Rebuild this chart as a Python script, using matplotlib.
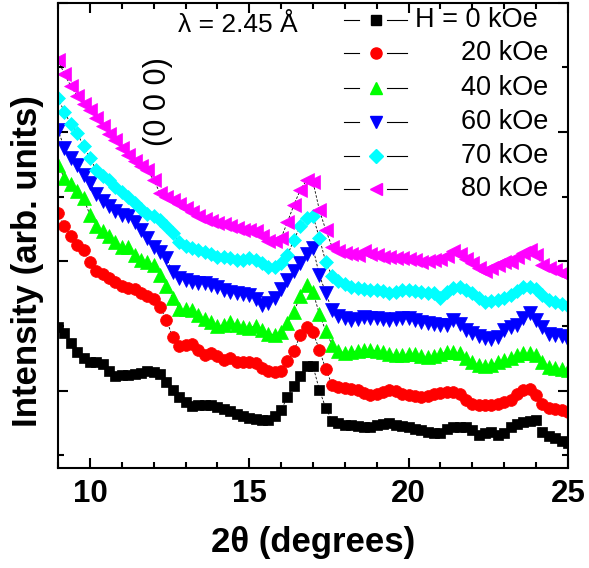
import numpy as np
import matplotlib.pyplot as plt
from matplotlib.ticker import FixedLocator, MultipleLocator

plt.rcParams['font.family'] = ['Liberation Sans', 'DejaVu Sans']

# 2theta grid (degrees) and intensities (arb. units)
two_theta = np.linspace(9.0, 25.0, 81)

i_0k = [141, 135, 125, 116, 110, 106, 106, 104, 97, 92,
        93, 93, 94, 95, 97, 96, 94, 86, 78, 71,
        66, 62, 63, 63, 63, 61, 59, 57, 54, 52,
        50, 49, 48, 48, 52, 58, 71, 82, 92, 102,
        102, 78, 60, 47, 45, 43, 43, 42, 41, 41,
        43, 44, 45, 43, 42, 41, 39, 38, 36, 35,
        35, 39, 41, 41, 41, 38, 33, 35, 36, 33,
        35, 41, 44, 46, 47, 48, 36, 32, 30, 27, 25]

i_20k = [255, 242, 232, 223, 218, 206, 197, 194, 190, 186,
         182, 180, 179, 175, 172, 169, 161, 148, 131, 122,
         123, 124, 118, 113, 115, 112, 108, 110, 106, 106,
         106, 105, 100, 97, 96, 97, 107, 117, 133, 141,
         136, 118, 99, 83, 81, 80, 79, 78, 75, 73,
         74, 76, 78, 77, 74, 73, 72, 71, 72, 74,
         75, 76, 76, 74, 68, 64, 63, 63, 63, 64,
         66, 68, 74, 78, 79, 73, 64, 60, 59, 58, 56]

i_40k = [303, 290, 284, 277, 270, 253, 242, 237, 232, 226,
         221, 221, 213, 208, 206, 203, 193, 182, 170, 159,
         159, 158, 153, 149, 146, 142, 143, 146, 143, 141,
         140, 142, 138, 134, 133, 136, 145, 156, 172, 183,
         176, 154, 137, 123, 117, 115, 116, 117, 118, 118,
         117, 116, 114, 113, 113, 114, 114, 112, 111, 112,
         114, 116, 116, 115, 110, 106, 103, 102, 103, 106,
         108, 110, 113, 115, 115, 113, 106, 101, 100, 99, 98]

i_60k = [338, 320, 310, 303, 293, 285, 274, 267, 262, 257,
         253, 252, 246, 238, 230, 221, 216, 210, 196, 190,
         188, 186, 185, 185, 183, 181, 178, 176, 175, 174,
         173, 169, 163, 165, 170, 179, 188, 197, 205, 214,
         220, 193, 175, 158, 152, 150, 148, 149, 151, 150,
         150, 149, 148, 149, 150, 150, 148, 146, 145, 144,
         143, 143, 148, 144, 138, 135, 132, 130, 129, 131,
         138, 141, 143, 150, 155, 148, 141, 134, 133, 132, 128]

i_70k = [370, 356, 344, 335, 322, 310, 298, 292, 288, 281,
         276, 271, 265, 259, 254, 252, 248, 242, 235, 226,
         222, 220, 218, 216, 214, 211, 211, 210, 208, 208,
         210, 208, 205, 201, 201, 205, 213, 228, 242, 250,
         252, 230, 206, 192, 187, 184, 181, 180, 179, 178,
         178, 177, 175, 176, 178, 178, 177, 176, 175, 175,
         170, 176, 180, 181, 178, 175, 170, 166, 167, 168,
         170, 173, 177, 181, 181, 179, 173, 168, 166, 164, 162]

i_80k = [408, 394, 382, 372, 364, 358, 350, 342, 334, 328,
         320, 313, 307, 302, 298, 288, 275, 271, 268, 264,
         260, 256, 252, 249, 247, 245, 244, 242, 240, 238,
         238, 237, 232, 227, 227, 230, 246, 263, 278, 288,
         286, 258, 238, 221, 217, 215, 214, 213, 217, 214,
         213, 211, 211, 210, 210, 209, 208, 206, 207, 208,
         209, 212, 217, 214, 209, 205, 200, 197, 200, 203,
         206, 206, 211, 215, 218, 213, 203, 200, 198, 195, 192]

series = [i_0k, i_20k, i_40k, i_60k, i_70k, i_80k]
labels = ['H = 0 kOe', '20 kOe', '40 kOe', '60 kOe', '70 kOe', '80 kOe']
colors = ['#000000', '#ff0000', '#00ff00', '#0000ff', '#00ffff', '#ff00ff']
markers = ['s', 'o', '^', 'v', 'D', '<']
sizes = [7.5, 8.5, 9.5, 9.5, 7.5, 9.5]

fig = plt.figure(figsize=(5.89, 5.68), dpi=100)
ax = fig.add_axes([0.0985, 0.1761, 0.8658, 0.8186])

for y in series:
    ax.plot(two_theta, y, color='k', lw=0.6, ls=(0, (3, 2)), zorder=1)
for y, c, m, s in zip(series, colors, markers, sizes):
    ax.plot(two_theta, y, ls='none', marker=m, ms=s, mfc=c, mec=c, mew=0.5, zorder=2)

ax.set_xlim(9, 25)
ax.set_ylim(0, 465)
ax.set_xticks([10, 15, 20, 25], labels=['10', '15', '20', '25'],
              fontsize=22.5, fontweight='bold')
ax.xaxis.set_minor_locator(MultipleLocator(1))
ax.yaxis.set_major_locator(FixedLocator([77, 207, 336, 465]))
ax.yaxis.set_minor_locator(FixedLocator([13, 142, 271, 401]))
ax.tick_params(labelleft=False)
ax.tick_params(which='both', direction='in', top=True, right=True, width=1.5)
ax.tick_params(which='major', length=7, pad=8)
ax.tick_params(which='minor', length=4)
for sp in ax.spines.values():
    sp.set_linewidth(1.5)

ax.set_xlabel('2θ (degrees)', fontsize=25, fontweight='bold')
ax.xaxis.set_label_coords(0.5, -0.125)
ax.set_ylabel('Intensity (arb. units)', fontsize=25, fontweight='bold')
ax.yaxis.set_label_coords(-0.028, 0.445)

ax.text(0.235, 0.953, 'λ = 2.45 Å', transform=ax.transAxes, fontsize=19, va='center')
ax.text(0.196, 0.787, '(0 0 0)', transform=ax.transAxes, fontsize=22,
        rotation=90, ha='center', va='center')

# legend drawn by hand: line - symbol - line, text to the right
rows = [0.963, 0.892, 0.817, 0.744, 0.671, 0.600]
for k, (lab, c, m, s) in enumerate(zip(labels, colors, markers, sizes)):
    yy = rows[k]
    ax.plot([0.560, 0.590], [yy, yy], color='k', lw=0.8, transform=ax.transAxes)
    ax.plot([0.645, 0.684], [yy, yy], color='k', lw=0.8, transform=ax.transAxes)
    ax.plot([0.624], [yy], ls='none', marker=m, ms=s - 0.5, mfc=c, mec=c,
            transform=ax.transAxes)
    if k == 0:
        ax.text(0.700, yy, lab, transform=ax.transAxes, fontsize=19.5,
                ha='left', va='center')
    else:
        ax.text(0.961, yy, lab, transform=ax.transAxes, fontsize=19.5,
                ha='right', va='center')

fig.savefig('out.png', dpi=100)
